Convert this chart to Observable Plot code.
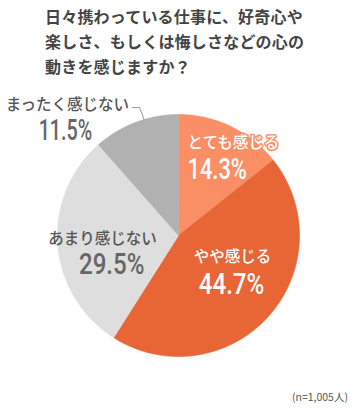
<!DOCTYPE html>
<html><head><meta charset="utf-8">
<script src="https://cdn.jsdelivr.net/npm/d3@7"></script>
<script src="https://cdn.jsdelivr.net/npm/@observablehq/plot@0.6"></script>
<style>
html,body{margin:0;padding:0;background:#fff;}
#wrap{position:relative;width:358px;height:408px;overflow:hidden;font-family:"Noto Sans CJK JP","Noto Sans",sans-serif;}
#title{position:absolute;left:45px;top:4px;width:300px;font-size:16px;font-weight:700;line-height:25px;color:#444;letter-spacing:0.2px;}
#chart{position:absolute;left:0;top:80px;}
#caption{position:absolute;right:10px;top:390px;font-size:10.5px;line-height:14px;color:#555;}
</style></head>
<body><div id="wrap">
<div id="title">日々携わっている仕事に、好奇心や<br>楽しさ、もしくは悔しさなどの心の<br>動きを感じますか？</div>
<div id="chart"></div>
<div id="caption">(n=1,005人)</div>
</div>
<script>
const categories = ["とても感じる", "やや感じる", "あまり感じない", "まったく感じない"];
const values = [14.3, 44.7, 29.5, 11.5];
const pctLabels = ["14.3%", "44.7%", "29.5%", "11.5%"];
const sampleNote = "(n=1,005人)";

// styles / layout (not data)
const colors = ["#FA8E65", "#E86536", "#DEDEDE", "#B1B1B1"];
const W = 358, H = 328, R = 121, CX = 178, CY = 155;
const labelOut = {"まったく感じない": true};
const textColor = {"とても感じる": "#fff", "やや感じる": "#fff", "あまり感じない": "#555", "まったく感じない": "#555"};
const haloColor = {"とても感じる": "#FA8E65", "やや感じる": "#E86536"};
const pctColor = {"とても感じる": "#fff", "やや感じる": "#fff", "あまり感じない": "#666", "まったく感じない": "#666"};
const anchor = {"とても感じる": "start", "やや感じる": "middle", "あまり感じない": "middle", "まったく感じない": "middle"};
// pixel nudges [labelDx, labelDy, pctDx, pctDy]
const nudge = {
  "とても感じる": [-23.6, -24.5, -23.6, 1.5],
  "やや感じる": [-1.8, -29, -2.8, -1],
  "あまり感じない": [-1.2, -2, 8, 23],
  "まったく感じない": [-55.5, 17, -57.5, 42]
};

document.getElementById("caption").textContent = sampleNote;

const total = d3.sum(values);
let cum = 0;
const slices = categories.map((c, i) => {
  const a0 = cum / total * 360; cum += values[i];
  const a1 = cum / total * 360;
  return {key: c, a0, a1, mid: (a0 + a1) / 2, pct: pctLabels[i]};
});
const rad = a => a * Math.PI / 180;
const pts = [];
for (const s of slices) {
  pts.push({key: s.key, x: 0, y: 0});
  const n = Math.ceil(s.a1 - s.a0) * 2;
  for (let k = 0; k <= n; k++) {
    const a = rad(s.a0 + (s.a1 - s.a0) * k / n);
    pts.push({key: s.key, x: Math.sin(a), y: Math.cos(a)});
  }
}
const px = 1 / R;
const labels = slices.map(s => {
  const r = labelOut[s.key] ? 1.3 : 0.62;
  const ax = r * Math.sin(rad(s.mid)), ay = r * Math.cos(rad(s.mid));
  const [ldx, ldy, pdx, pdy] = nudge[s.key];
  return {key: s.key, pct: s.pct,
    lx: ax + ldx * px, ly: ay - ldy * px,
    px: ax + pdx * px, py: ay - pdy * px};
});
const last = slices[3];
const la = rad(last.a0 + 0.6 * (last.a1 - last.a0));
const ex = Math.sin(la), ey = Math.cos(la);
const leader = [
  {x: ex, y: ey},
  {x: ex - 4.4 * px, y: ey + 12 * px},
  {x: ex - 11.4 * px, y: ey + 12 * px}
];

const labelMarks = [];
for (const l of labels) {
  const halo = haloColor[l.key];
  labelMarks.push(Plot.text([l], {x: "lx", y: "ly", text: "key", fill: textColor[l.key],
    stroke: halo || "none", strokeWidth: halo ? 3 : 0,
    textAnchor: anchor[l.key], fontSize: 15.5, fontWeight: 500,
    fontFamily: "Noto Sans CJK JP"}));
  labelMarks.push(Plot.text([l], {x: "px", y: "py", text: "pct", fill: pctColor[l.key],
    textAnchor: anchor[l.key], fontSize: 29, fontWeight: 500,
    fontFamily: "Roboto"}));
}

const plot = Plot.plot({
  width: W, height: H,
  margin: 0, inset: 0,
  x: {domain: [-CX / R, (W - CX) / R], axis: null},
  y: {domain: [-(H - CY) / R, CY / R], axis: null},
  color: {domain: categories, range: colors},
  marks: [
    Plot.line(pts, {x: "x", y: "y", z: "key", fill: "key", stroke: "key", strokeWidth: 0.6, curve: "linear-closed"}),
    Plot.line(leader, {x: "x", y: "y", stroke: "#9a9a9a", strokeWidth: 1}),
    ...labelMarks
  ]
});
document.getElementById("chart").appendChild(plot);
for (const t of plot.querySelectorAll("text")) {
  const s = t.textContent;
  if (s.endsWith("%")) {
    const n = t.getComputedTextLength();
    const ones = (s.match(/1/g) || []).length;
    t.setAttribute("textLength", n * 0.83 - 6 * ones);
    t.setAttribute("lengthAdjust", "spacingAndGlyphs");
  }
}
</script>
</body></html>
